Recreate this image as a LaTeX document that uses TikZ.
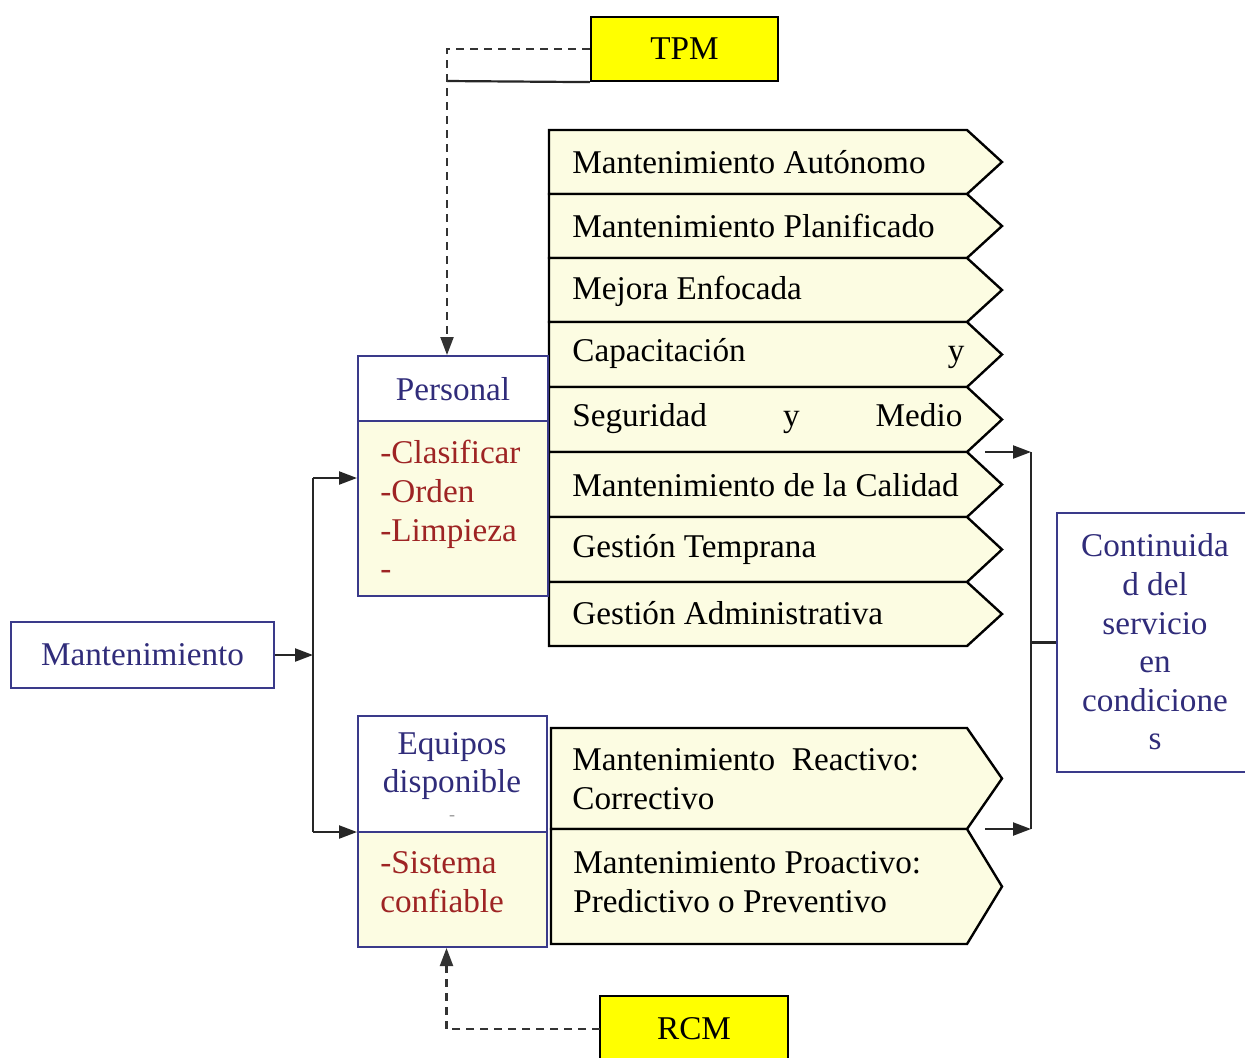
\documentclass[tikz,border=0pt]{standalone}
\usepackage{fontspec}
\setmainfont{Liberation Serif}
\usetikzlibrary{arrows.meta}
\definecolor{cream}{RGB}{252,252,226}
\definecolor{ybox}{RGB}{255,255,0}
\definecolor{navy}{RGB}{48,44,122}
\definecolor{bord}{RGB}{58,58,138}
\definecolor{dred}{RGB}{158,36,36}
\begin{document}
\begin{tikzpicture}[x=0.5pt,y=-0.5pt,
  font=\fontsize{16.6}{19.3}\selectfont,
  pill/.style={fill=cream, draw=black, line width=1.2pt, line join=miter},
  ptext/.style={anchor=west, inner sep=0pt, text=black, align=left},
  bluebox/.style={draw=bord, line width=1pt},
  yelbox/.style={draw=black, fill=ybox, line width=1.1pt, font=\fontsize{16.6}{19.3}\selectfont},
  tip/.style={-{Triangle[length=9pt,width=6.5pt]}},
  conn/.style={line width=1.1pt, draw=black!85},
  dconn/.style={line width=1.1pt, draw=black!80, dash pattern=on 4pt off 3pt}]
\useasboundingbox (0,0) rectangle (1245,1057);
\fill[white] (0,0) rectangle (1245,1057);

% upper pillars
\foreach \t/\b in {130/194,194/258,258/322,322/387,387/452,452/517,517/582,582/646}
  \filldraw[pill] (549,\t) -- (967,\t) -- (1002,{(\t+\b)/2}) -- (967,\b) -- (549,\b) -- cycle;
% lower pillars
\foreach \t/\b in {728/829,829/944}
  \filldraw[pill] (551,\t) -- (967,\t) -- (1002,{(\t+\b)/2}) -- (967,\b) -- (551,\b) -- cycle;

\node[ptext] (p1) at (572,162) {Mantenimiento Autónomo};
\node[ptext] (p2) at (572,226) {Mantenimiento Planificado};
\node[ptext] (p3) at (572,291) {Mejora Enfocada};
\node[ptext] (p4) at (572,354) {\hbox to 196pt{Capacitación\hfill y}};
\node[ptext] (p5) at (572,419) {\hbox to 195pt{Seguridad\hfill y\hfill Medio}};
\node[ptext] (p6) at (572,485) {Mantenimiento de la Calidad};
\node[ptext] (p7) at (572,549) {Gestión Temprana};
\node[ptext] (p8) at (572,613) {Gestión Administrativa};
\node[ptext] (q1) at (572,779) {Mantenimiento\ \ Reactivo:\\Correctivo};
\node[ptext] (q2) at (573,882) {Mantenimiento Proactivo:\\Predictivo o Preventivo};

% Personal box
\fill[white] (358,356) rectangle (548,421);
\fill[cream] (358,421) rectangle (548,596);
\node[bluebox, minimum width=95pt, minimum height=120pt, inner sep=0pt] (pers) at (453,476) {};
\draw[bluebox] (358,421) -- (548,421);
\node[text=navy] (perst) at (453,389) {Personal};
\node[ptext, text=dred] (persl) at (380,510) {-Clasificar\\-Orden\\-Limpieza\\-};

% Equipos box
\fill[white] (358,716) rectangle (547,832);
\fill[cream] (358,832) rectangle (547,947);
\node[bluebox, minimum width=94.5pt, minimum height=115.5pt, inner sep=0pt] (equ) at (452.5,831.5) {};
\draw[bluebox] (358,832) -- (547,832);
\node[text=navy, align=center] (equt) at (452,766) {Equipos\\disponible};
\node[text=black!40, font=\fontsize{9}{10}\selectfont] (equd) at (452,818) {-};
\node[ptext, text=dred] (equl) at (380,882) {-Sistema\\confiable};

% Mantenimiento
\node[bluebox, minimum width=131.5pt, minimum height=33pt, inner sep=0pt, text=navy] (mant) at (142.5,655) {Mantenimiento};

% Continuidad
\node[bluebox, minimum width=106.5pt, minimum height=129.5pt, inner sep=0pt] (cont) at (1163.5,642.5) {};
\node[text=navy, align=center, inner sep=0pt] (contt) at (1155,642) {Continuida\\d del\\servicio\\en\\condicione\\s};

% TPM / RCM
\node[yelbox, minimum width=93.5pt, minimum height=32pt, inner sep=0pt] (tpm) at (684.5,49) {TPM};
\node[yelbox, minimum width=94pt, minimum height=36pt, inner sep=0pt] (rcm) at (694,1032) {};
\node[inner sep=0pt] (rcmt) at (694,1029) {RCM};

% connectors
\coordinate (tpmtail) at (447,81);
\draw[conn] (tpm.south west) -- (tpmtail);
\draw[dconn, tip] (tpm.west) -| ([xshift=-3pt]pers.north);
\coordinate (rcmc) at (600,1029);
\draw[dconn, tip] (rcmc) -| ([xshift=-3pt]equ.south);

\coordinate (jm) at (313,655);
\coordinate (jt) at (313,478);
\coordinate (jb) at (313,832);
\draw[conn, tip] (mant.east) -- (jm);
\draw[conn] (jt) -- (jb);
\draw[conn, tip] (jt) -- (pers.west |- jt);
\draw[conn, tip] (jb) -- (equ.west |- jb);

\coordinate (r1) at (985,452);
\coordinate (r2) at (985,829);
\coordinate (b1) at (1031,452);
\coordinate (b2) at (1031,829);
\draw[conn] (b1) -- (b2);
\draw[conn, tip] (r1) -- (b1);
\draw[conn, tip] (r2) -- (b2);
\draw[conn] (cont.west) -- (cont.west -| b1);
\end{tikzpicture}
\end{document}
